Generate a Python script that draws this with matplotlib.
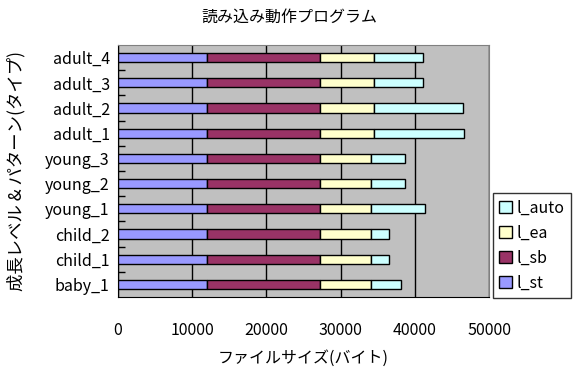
import matplotlib
matplotlib.use('Agg')
from matplotlib import pyplot as plt
import numpy as np

plt.rcParams['font.family'] = ['Noto Sans CJK JP', 'DejaVu Sans']

categories = ['baby_1', 'child_1', 'child_2', 'young_1', 'young_2', 'young_3',
              'adult_1', 'adult_2', 'adult_3', 'adult_4']
l_st = [12000, 12000, 12000, 12000, 12000, 12000, 12000, 12000, 12000, 12000]
l_sb = [15200, 15200, 15200, 15200, 15200, 15200, 15200, 15200, 15200, 15200]
l_ea = [6850, 6850, 6850, 6850, 6850, 6850, 7300, 7300, 7300, 7300]
l_auto = [4050, 2450, 2450, 7300, 4600, 4600, 12100, 11950, 6550, 6550]

series = [('l_st', l_st, '#9999FF'), ('l_sb', l_sb, '#993366'),
          ('l_ea', l_ea, '#FFFFCC'), ('l_auto', l_auto, '#CCFFFF')]

fig = plt.figure(figsize=(5.79, 3.69), dpi=100)
ax = fig.add_axes([118/579, 1-297/369, 371/579, 252/369])
ax.set_facecolor('#C0C0C0')

y = np.arange(len(categories))
left = np.zeros(len(categories))
handles = []
for name, vals, col in series:
    b = ax.barh(y, vals, left=left, height=0.37, color=col, edgecolor='black',
                linewidth=1.0, label=name, zorder=3)
    handles.append(b)
    left += np.array(vals)

ax.set_xlim(0, 50000)
ax.set_ylim(-0.5, len(categories) - 0.5)
ax.set_xticks([0, 10000, 20000, 30000, 40000, 50000])
ax.grid(axis='x', color='black', linewidth=1.0, zorder=1)
ax.set_yticks(y)
ax.set_yticklabels(categories)
ax.set_yticks(np.arange(len(categories) - 1) + 0.5, minor=True)
ax.tick_params(axis='y', which='major', length=0, pad=6, labelsize=11.5)
ax.tick_params(axis='y', which='minor', length=5, direction='in', width=1, color='black')
ax.tick_params(axis='x', length=0, pad=18, labelsize=11.5)
for s in ['top', 'right']:
    ax.spines[s].set_color('#808080')
for s in ['left', 'bottom']:
    ax.spines[s].set_color('black')

fig.text(0.5, 1-17/369, '読み込み動作プログラム', ha='center', va='center', fontsize=11.5)
ax.set_xlabel('ファイルサイズ(バイト)', fontsize=11.5, labelpad=8)
ax.set_ylabel('成長レベル & パターン(タイプ)', fontsize=12.5)
ax.yaxis.set_label_coords(-0.25, 0.5)

leg = fig.legend(handles[::-1], [s[0] for s in series][::-1],
                 loc='upper left', bbox_to_anchor=(493/579, 1-193/369),
                 frameon=True, fancybox=False, edgecolor='black',
                 fontsize=11.5, handlelength=0.8, handleheight=0.8,
                 handletextpad=0.3, labelspacing=0.5, borderpad=0.4,
                 borderaxespad=0)
leg.get_frame().set_linewidth(1.0)

plt.savefig('out.png')
